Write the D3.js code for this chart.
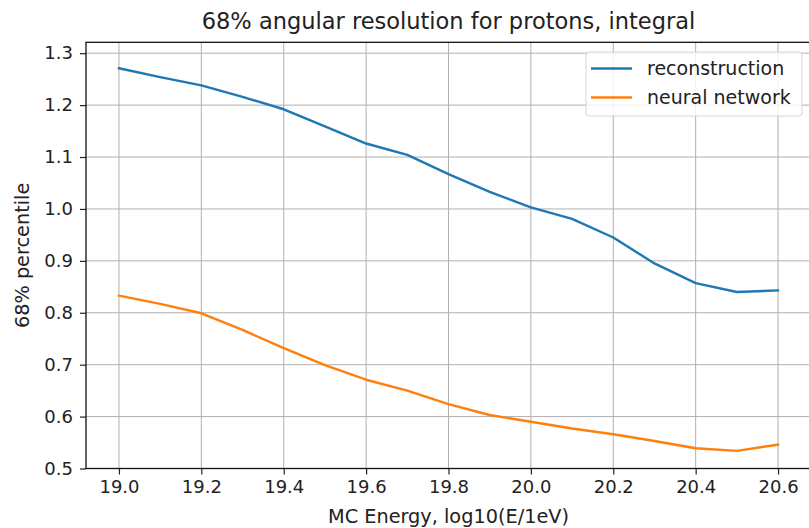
<!DOCTYPE html>
<html>
<head>
<meta charset="utf-8">
<script src="https://cdn.jsdelivr.net/npm/d3@7"></script>
<style>
  body { margin: 0; background: #fff; }
  text { font-family: "DejaVu Sans", sans-serif; fill: #222; }
</style>
</head>
<body>
<div id="chart"></div>
<script>
// MC energy bins, log10(E/1eV)
var energies = [19.0, 19.1, 19.2, 19.3, 19.4, 19.5, 19.6, 19.7, 19.8, 19.9, 20.0, 20.1, 20.2, 20.3, 20.4, 20.5, 20.6];
// 68% percentile per bin
var reconstruction = [1.271, 1.254, 1.238, 1.216, 1.192, 1.159, 1.126, 1.104, 1.067, 1.033, 1.003, 0.981, 0.945, 0.895, 0.857, 0.840, 0.843];
var neuralNetwork = [0.833, 0.817, 0.799, 0.767, 0.732, 0.699, 0.671, 0.650, 0.624, 0.603, 0.590, 0.577, 0.566, 0.553, 0.539, 0.534, 0.546];

var xTicks = [19.0, 19.2, 19.4, 19.6, 19.8, 20.0, 20.2, 20.4, 20.6];
var yTicks = [0.5, 0.6, 0.7, 0.8, 0.9, 1.0, 1.1, 1.2, 1.3];
var seriesNames = ['reconstruction', 'neural network'];
var seriesColors = ['#1f77b4', '#ff7f0e'];

var width = 809, height = 528;
var m = { top: 42.3, left: 86, right: 811, bottom: 468.5 };

var svg = d3.select('#chart').append('svg')
  .attr('width', width)
  .attr('height', height);

var x = d3.scaleLinear().domain([18.92, 20.68]).range([m.left, m.right]);
var y = d3.scaleLinear().domain([0.5, 1.321]).range([m.bottom, m.top]);

// grid
svg.append('g').selectAll('line')
  .data(xTicks).enter().append('line')
  .attr('x1', function(d) { return x(d); })
  .attr('x2', function(d) { return x(d); })
  .attr('y1', m.top).attr('y2', m.bottom)
  .attr('stroke', '#b0b0b0').attr('stroke-width', 1);
svg.append('g').selectAll('line')
  .data(yTicks).enter().append('line')
  .attr('x1', m.left).attr('x2', m.right)
  .attr('y1', function(d) { return y(d); })
  .attr('y2', function(d) { return y(d); })
  .attr('stroke', '#b0b0b0').attr('stroke-width', 1);

// axes
var xAxis = d3.axisBottom(x).tickValues(xTicks).tickFormat(d3.format('.1f')).tickSize(6).tickPadding(6);
var yAxis = d3.axisLeft(y).tickValues(yTicks).tickFormat(d3.format('.1f')).tickSize(6).tickPadding(7);

var gx = svg.append('g').attr('transform', 'translate(0,' + m.bottom + ')').call(xAxis);
var gy = svg.append('g').attr('transform', 'translate(' + m.left + ',0)').call(yAxis);
[gx, gy].forEach(function(g) {
  g.select('.domain').remove();
  g.selectAll('.tick line').attr('stroke', '#222').attr('stroke-width', 1.2);
  g.selectAll('.tick text')
    .attr('font-family', '"DejaVu Sans", sans-serif')
    .attr('font-size', 18).attr('fill', '#222');
});

// lines
var line = d3.line()
  .x(function(d) { return x(d[0]); })
  .y(function(d) { return y(d[1]); });

[reconstruction, neuralNetwork].forEach(function(values, i) {
  svg.append('path')
    .datum(energies.map(function(e, j) { return [e, values[j]]; }))
    .attr('d', line)
    .attr('fill', 'none')
    .attr('stroke', seriesColors[i])
    .attr('stroke-width', 2.4)
    .attr('stroke-linejoin', 'round')
    .attr('stroke-linecap', 'square');
});

// spines
svg.append('rect')
  .attr('x', m.left).attr('y', m.top)
  .attr('width', m.right - m.left).attr('height', m.bottom - m.top)
  .attr('fill', 'none').attr('stroke', '#111').attr('stroke-width', 1.3);

// legend
var legend = svg.append('g').attr('transform', 'translate(586,52)');
legend.append('rect')
  .attr('width', 216).attr('height', 64)
  .attr('rx', 3).attr('ry', 3)
  .attr('fill', '#fff').attr('fill-opacity', 0.8)
  .attr('stroke', '#d6d6d6').attr('stroke-width', 1);
var items = legend.selectAll('.item')
  .data(seriesNames).enter().append('g')
  .attr('class', 'item')
  .attr('transform', function(d, i) { return 'translate(0,' + (16.5 + i * 29) + ')'; });
items.append('line')
  .attr('x1', 5).attr('x2', 46)
  .attr('stroke', function(d, i) { return seriesColors[i]; })
  .attr('stroke-width', 2.4);
items.append('text')
  .attr('x', 61).attr('y', 6.8)
  .attr('font-size', 19)
  .text(function(d) { return d; });

// title and labels
svg.append('text')
  .attr('x', (m.left + m.right) / 2).attr('y', 29)
  .attr('text-anchor', 'middle')
  .attr('font-size', 22.5)
  .text('68% angular resolution for protons, integral');

svg.append('text')
  .attr('x', (m.left + m.right) / 2).attr('y', 523)
  .attr('text-anchor', 'middle')
  .attr('font-size', 19.3)
  .text('MC Energy, log10(E/1eV)');

svg.append('text')
  .attr('transform', 'translate(28.5,' + ((m.top + m.bottom) / 2) + ') rotate(-90)')
  .attr('text-anchor', 'middle')
  .attr('font-size', 19.3)
  .text('68% percentile');
</script>
</body>
</html>
